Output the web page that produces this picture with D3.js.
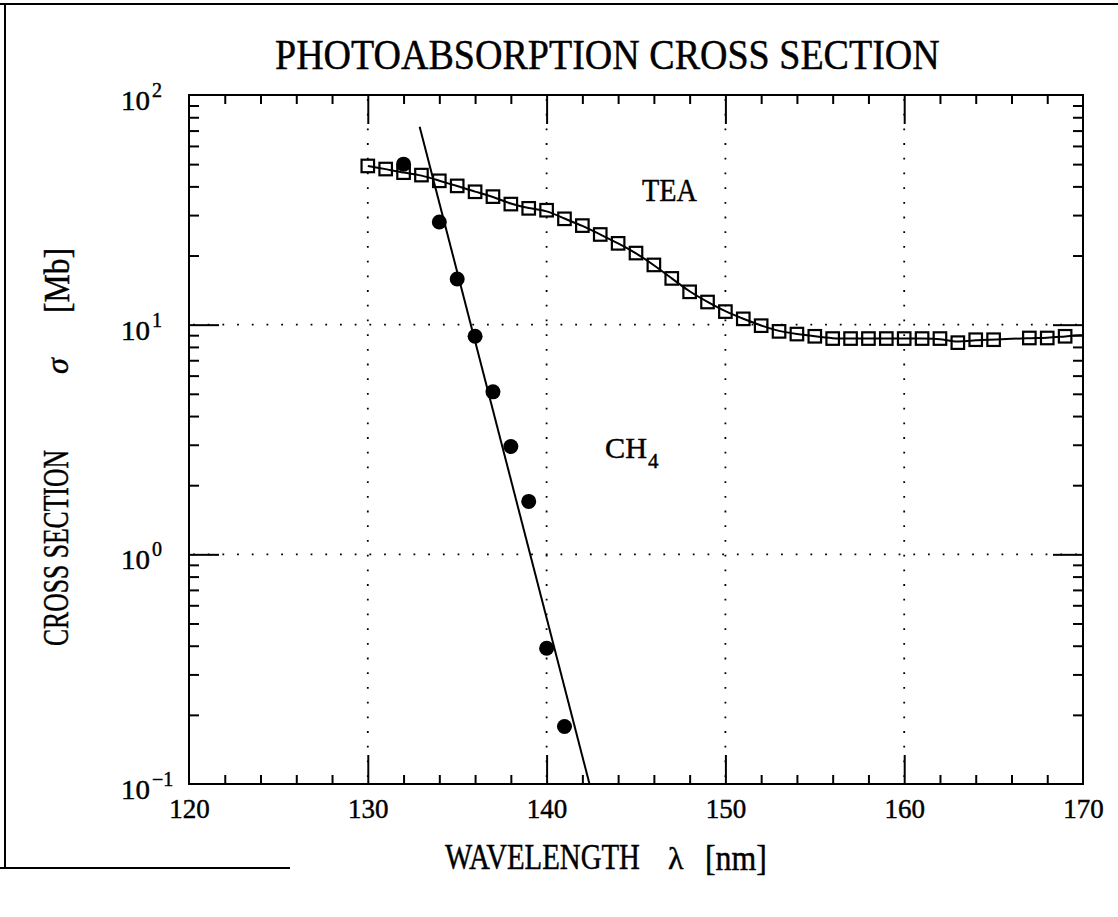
<!DOCTYPE html>
<html>
<head>
<meta charset="utf-8">
<script src="https://cdn.jsdelivr.net/npm/d3@7"></script>
<style>
  body { margin: 0; background: #fff; }
  svg { display: block; }
  text { font-family: "Liberation Serif", "DejaVu Serif", serif; fill: #000; stroke: #000; stroke-width: 0.45px; }
</style>
</head>
<body>
<svg id="chart" width="1118" height="917"></svg>
<script>
// Photoabsorption cross section of TEA (open squares) and CH4 (filled dots)
const teaWavelength = [130,131,132,133,134,135,136,137,138,139,
                       140,141,142,143,144,145,146,147,148,149,
                       150,151,152,153,154,155,156,157,158,159,
                       160,161,162,163,164,165,167,168,169];
const teaSigma = [49.1,47.6,45.9,44.8,42.3,40.2,37.9,36.1,33.5,32.1,
                  31.5,28.9,27.0,24.7,22.6,20.5,18.2,15.9,13.9,12.55,
                  11.4,10.6,9.9,9.35,9.1,8.9,8.7,8.7,8.7,8.7,
                  8.7,8.7,8.7,8.35,8.6,8.6,8.75,8.75,8.9];
// end of the smooth TEA curve at the right axis
const teaCurveEnd = [170, 9.0];

const ch4Wavelength = [132,134,135,136,137,138,139,140,141];
const ch4Sigma = [50,28,15.8,8.9,5.1,2.95,1.7,0.39,0.178];
// straight exponential fit through the CH4 points
const ch4FitWavelength = [132.9, 142.4];
const ch4FitSigma = [72.8, 0.1];

const xTickLabels = [120,130,140,150,160,170];
const xMajorTicks = [130,140,150,160];
const xMinorTicks = [122,124,126,128,132,134,136,138,142,144,146,148,152,154,156,158,162,164,166,168];
const yDecades = [-1,0,1,2];
const yExponentLabels = ["\u22121","0","1","2"];
const yMajorTicks = [1,10];
const yMinorTicks = [2,3,4,5,6,7,8,9].flatMap(m => [0.1,1,10].map(d => m*d));

const svg = d3.select("#chart");

const L = 189, R = 1083, T = 95, B = 784;
const x = d3.scaleLinear().domain([120,170]).range([L,R]);
const y = d3.scaleLog().domain([0.1,100]).range([B,T]);

// text squeezed horizontally to a given width (the lettering is narrow and tall)
function narrowText(parent, str, px, py, size, width, rotate) {
  const t = parent.append("text").attr("font-size", size).text(str);
  const natural = t.node().getComputedTextLength();
  const s = width / natural;
  t.attr("transform", `translate(${px},${py})` + (rotate ? " rotate(-90)" : "") + ` scale(${s},1)`);
  return t;
}

// page border
svg.append("path")
  .attr("d", "M0,4 H1118 M5,4 V868 M0,868 H290")
  .attr("fill","none").attr("stroke","#000").attr("stroke-width",2);

// title
narrowText(svg, "PHOTOABSORPTION CROSS SECTION", 275, 69, 43, 665);

// dotted grid
const grid = svg.append("g").attr("stroke","#000").attr("stroke-width",1.8)
  .attr("stroke-dasharray","1.8,12.9").attr("fill","none");
grid.selectAll("line.v").data(xMajorTicks).join("line").attr("class","v")
  .attr("x1",d=>x(d)).attr("x2",d=>x(d)).attr("y1",T+4).attr("y2",B);
grid.selectAll("line.h").data(yMajorTicks).join("line").attr("class","h")
  .attr("y1",d=>y(d)).attr("y2",d=>y(d)).attr("x1",L+4).attr("x2",R);

// ticks on all four sides, pointing inward
function tickAxis(gen, tr) {
  const g = svg.append("g").attr("transform", tr).call(gen);
  g.select(".domain").remove();
  g.selectAll(".tick line").attr("stroke","#000").attr("stroke-width",2);
  g.selectAll(".tick text").remove();
  return g;
}
tickAxis(d3.axisBottom(x).tickValues(xMajorTicks).tickSize(-29), `translate(0,${B})`);
tickAxis(d3.axisBottom(x).tickValues(xMinorTicks).tickSize(-9), `translate(0,${B})`);
tickAxis(d3.axisTop(x).tickValues(xMajorTicks).tickSize(-29), `translate(0,${T})`);
tickAxis(d3.axisTop(x).tickValues(xMinorTicks).tickSize(-9), `translate(0,${T})`);
tickAxis(d3.axisLeft(y).tickValues(yMajorTicks).tickSize(-30), `translate(${L},0)`);
tickAxis(d3.axisLeft(y).tickValues(yMinorTicks).tickSize(-10), `translate(${L},0)`);
tickAxis(d3.axisRight(y).tickValues(yMajorTicks).tickSize(-30), `translate(${R},0)`);
tickAxis(d3.axisRight(y).tickValues(yMinorTicks).tickSize(-10), `translate(${R},0)`);

// frame
svg.append("rect").attr("x",L).attr("y",T).attr("width",R-L).attr("height",B-T)
  .attr("fill","none").attr("stroke","#000").attr("stroke-width",2);

// x tick labels
const xl = svg.append("g").attr("transform",`translate(0,${B})`)
  .call(d3.axisBottom(x).tickValues(xTickLabels).tickSize(0).tickPadding(15).tickFormat(d3.format("d")));
xl.select(".domain").remove();
xl.selectAll(".tick text").attr("font-family",null).attr("font-size",27).attr("fill","#000");

// y tick labels: 10 with exponent
const yl = svg.append("g");
yDecades.forEach((d,i) => {
  const yy = y(Math.pow(10,d));
  narrowText(yl, "10", 121, yy+15, 28, 29);
  yl.append("text").attr("x",152).attr("y",yy+2).attr("font-size",20)
    .text(yExponentLabels[i]);
});

// axis titles
narrowText(svg, "WAVELENGTH", 445, 869, 36, 195);
svg.append("text").attr("x",668).attr("y",869).attr("font-size",32).text("\u03bb");
narrowText(svg, "[nm]", 705, 870, 36, 62);

narrowText(svg, "CROSS SECTION", 68, 646, 36, 196, true);
svg.append("text").attr("transform","translate(68,374) rotate(-90)").attr("font-size",32)
  .attr("font-style","italic").text("\u03c3");
narrowText(svg, "[Mb]", 69, 313, 36, 65, true);

// series labels
narrowText(svg, "TEA", 642, 201, 32, 55);
narrowText(svg, "CH", 605, 458, 30, 42);
svg.append("text").attr("x",648).attr("y",468).attr("font-size",21).text("4");

// plotting area clip
svg.append("clipPath").attr("id","plotClip").append("rect")
  .attr("x",L).attr("y",T).attr("width",R-L).attr("height",B-T);
const plot = svg.append("g").attr("clip-path","url(#plotClip)");

// TEA curve and points
const teaPts = teaWavelength.map((w,i) => [w, teaSigma[i]]).concat([teaCurveEnd]);
plot.append("path").datum(teaPts)
  .attr("d", d3.line().x(d=>x(d[0])).y(d=>y(d[1])).curve(d3.curveBasis))
  .attr("fill","none").attr("stroke","#000").attr("stroke-width",2);

// CH4 fit line
plot.append("path").datum(ch4FitWavelength.map((w,i)=>[w, ch4FitSigma[i]]))
  .attr("d", d3.line().x(d=>x(d[0])).y(d=>y(d[1])))
  .attr("fill","none").attr("stroke","#000").attr("stroke-width",2);

plot.selectAll("circle.ch4").data(ch4Wavelength).join("circle").attr("class","ch4")
  .attr("cx",d=>x(d)).attr("cy",(d,i)=>y(ch4Sigma[i])).attr("r",7.5).attr("fill","#000");

const sq = 12.5;
plot.selectAll("rect.tea").data(teaWavelength).join("rect").attr("class","tea")
  .attr("x",d=>x(d)-sq/2).attr("y",(d,i)=>y(teaSigma[i])-sq/2)
  .attr("width",sq).attr("height",sq)
  .attr("fill","none").attr("stroke","#000").attr("stroke-width",2.2);
</script>
</body>
</html>
